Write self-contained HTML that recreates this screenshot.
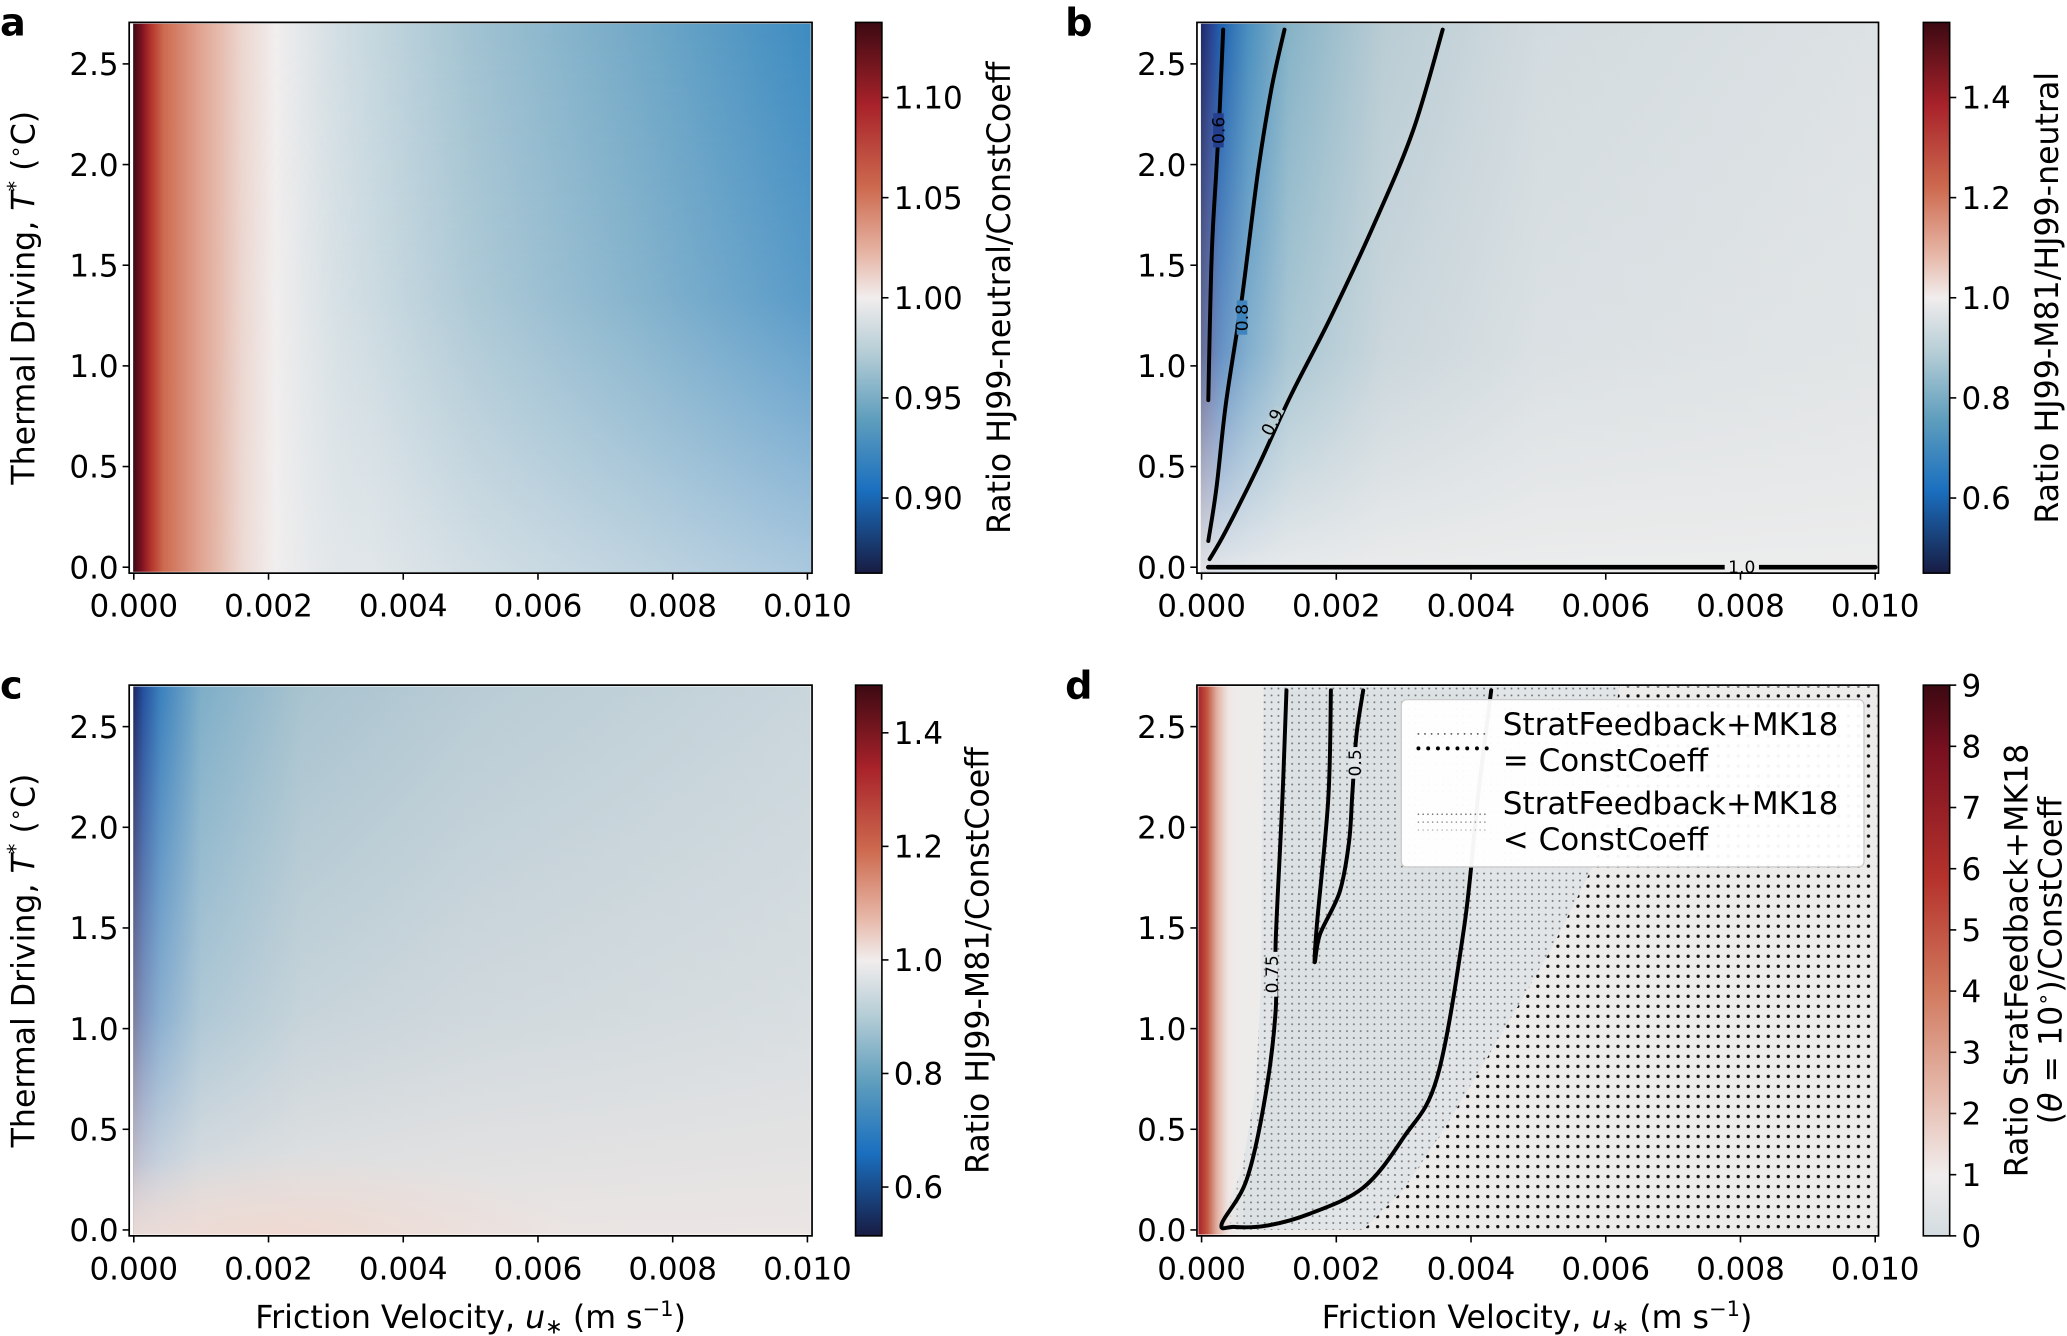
<!DOCTYPE html>
<html><head><meta charset="utf-8"><style>
html,body{margin:0;padding:0;background:#fff;}
svg{display:block;font-family:"DejaVu Sans","Liberation Sans",sans-serif;}
</style></head><body>
<svg id="fig" width="2067" height="1336" viewBox="0 0 1568 1014" preserveAspectRatio="none" xmlns="http://www.w3.org/2000/svg">
<defs>
<linearGradient id="gA" x1="0" x2="1" y1="0" y2="0">
<stop offset="0" stop-color="#3c0912"/><stop offset="0.012" stop-color="#7a1020"/><stop offset="0.025" stop-color="#b0302a"/><stop offset="0.045" stop-color="#cd6a4f"/><stop offset="0.1" stop-color="#e0a592"/><stop offset="0.16" stop-color="#ecd6cf"/><stop offset="0.21" stop-color="#f1eeee"/><stop offset="0.3" stop-color="#d3dfe4"/><stop offset="0.5" stop-color="#a2c3d2"/><stop offset="0.75" stop-color="#72a9c7"/><stop offset="1" stop-color="#3e8cc2"/>
</linearGradient>
<linearGradient id="ovA" x1="0" x2="0" y1="0" y2="1">
<stop offset="0" stop-color="#f2f0f0" stop-opacity="0"/><stop offset="0.5" stop-color="#f2f0f0" stop-opacity="0.15"/><stop offset="1" stop-color="#f2f0f0" stop-opacity="0.6"/>
</linearGradient>
<linearGradient id="mA" x1="0" x2="1" y1="0" y2="0">
<stop offset="0" stop-color="#000"/><stop offset="0.12" stop-color="#000"/><stop offset="0.35" stop-color="#fff"/><stop offset="1" stop-color="#fff"/>
</linearGradient>
<mask id="maskA" maskUnits="userSpaceOnUse" x="101" y="18" width="514" height="416"><rect x="101" y="18" width="514" height="416" fill="url(#mA)"/></mask>
<linearGradient id="gB" x1="0" x2="1" y1="0" y2="0">
<stop offset="0" stop-color="#1d2a63"/><stop offset="0.012" stop-color="#263d8c"/><stop offset="0.03" stop-color="#1f62b0"/><stop offset="0.07" stop-color="#4a8fbf"/><stop offset="0.13" stop-color="#86b3c7"/><stop offset="0.27" stop-color="#b9ccd4"/><stop offset="0.5" stop-color="#d2dbdf"/><stop offset="1" stop-color="#dde2e4"/>
</linearGradient>
<linearGradient id="ovB" x1="0" x2="0" y1="0" y2="1">
<stop offset="0" stop-color="#ebebeb" stop-opacity="0"/><stop offset="0.6" stop-color="#ebebeb" stop-opacity="0.35"/><stop offset="1" stop-color="#ededed" stop-opacity="0.95"/>
</linearGradient>
<linearGradient id="gC" x1="0" x2="1" y1="0" y2="0">
<stop offset="0" stop-color="#1c2560"/><stop offset="0.015" stop-color="#24509e"/><stop offset="0.04" stop-color="#3a80bd"/><stop offset="0.1" stop-color="#7eaec8"/><stop offset="0.25" stop-color="#a8c3cf"/><stop offset="0.5" stop-color="#b9ccd5"/><stop offset="1" stop-color="#c9d6dc"/>
</linearGradient>
<linearGradient id="ovC" x1="0" x2="0" y1="0" y2="1">
<stop offset="0" stop-color="#ebe8e7" stop-opacity="0"/><stop offset="0.6" stop-color="#ebe8e7" stop-opacity="0.45"/><stop offset="1" stop-color="#ede6e4" stop-opacity="0.95"/>
</linearGradient>
<radialGradient id="redC" cx="0.5" cy="0.5" r="0.5">
<stop offset="0" stop-color="#f0d6cc" stop-opacity="0.8"/><stop offset="1" stop-color="#f0d6cc" stop-opacity="0"/>
</radialGradient>
<clipPath id="clipC"><rect x="101" y="521" width="514" height="416"/></clipPath>
<linearGradient id="gD" x1="0" x2="1" y1="0" y2="0">
<stop offset="0" stop-color="#a8222a"/><stop offset="0.012" stop-color="#c0503c"/><stop offset="0.028" stop-color="#e2b2a4"/><stop offset="0.045" stop-color="#efe6e4" stop-opacity="0.8"/><stop offset="0.07" stop-color="#efeded" stop-opacity="0"/>
</linearGradient>
<linearGradient id="cbDiv" x1="0" x2="0" y1="0" y2="1">
<stop offset="0" stop-color="#3c0912"/><stop offset="0.15" stop-color="#a8222a"/><stop offset="0.3" stop-color="#cd6a4f"/><stop offset="0.42" stop-color="#e6b5a5"/><stop offset="0.5" stop-color="#f1eded"/><stop offset="0.6" stop-color="#b5cdd6"/><stop offset="0.72" stop-color="#5f9ebd"/><stop offset="0.85" stop-color="#1a6fbf"/><stop offset="1" stop-color="#181c43"/>
</linearGradient>
<linearGradient id="cbD" x1="0" x2="0" y1="0" y2="1">
<stop offset="0" stop-color="#3c0912"/><stop offset="0.12" stop-color="#7a1020"/><stop offset="0.35" stop-color="#b5322c"/><stop offset="0.55" stop-color="#d0775c"/><stop offset="0.75" stop-color="#e6bcaf"/><stop offset="0.89" stop-color="#f1eded"/><stop offset="1" stop-color="#d3dce0"/>
</linearGradient>
<pattern id="dotsBlack" width="7.6" height="7.6" patternUnits="userSpaceOnUse">
<circle cx="3.8" cy="3.8" r="1.25" fill="#111"/>
</pattern>
<pattern id="dotsGrey" width="5.2" height="5.2" patternUnits="userSpaceOnUse">
<circle cx="2.6" cy="2.6" r="0.75" fill="#777"/>
</pattern>
<clipPath id="clipD"><rect x="909" y="521" width="515" height="416"/></clipPath>
</defs>

<g>
<rect x="101" y="18" width="514" height="416" fill="url(#gA)"/>
<rect x="101" y="18" width="514" height="416" fill="url(#ovA)" mask="url(#maskA)"/>
</g>
<g>
<rect x="911" y="18" width="513" height="416" fill="url(#gB)"/>
<rect x="911" y="18" width="513" height="416" fill="url(#ovB)"/>
</g>
<g clip-path="url(#clipC)">
<rect x="101" y="521" width="514" height="416" fill="url(#gC)"/>
<rect x="101" y="521" width="514" height="416" fill="url(#ovC)"/>
<ellipse cx="210" cy="940" rx="230" ry="65" fill="url(#redC)"/>
</g>
<g id="dLayer" clip-path="url(#clipD)">
<rect x="909" y="521" width="515" height="416" fill="#eeeceb"/>
</g>

<g id="marks"></g>
</svg>
<script>
// ---------- data ----------
const xTicks = [0, 0.002, 0.004, 0.006, 0.008, 0.010];
const xTickLabels = ["0.000","0.002","0.004","0.006","0.008","0.010"];
const yTicks = [0, 0.5, 1.0, 1.5, 2.0, 2.5];
const yTickLabels = ["0.0","0.5","1.0","1.5","2.0","2.5"];
const cbATicks = [0.90, 0.95, 1.00, 1.05, 1.10];
const cbALabels = ["0.90","0.95","1.00","1.05","1.10"];
const cbARange = [0.8625, 1.1375];
const cbBTicks = [0.6, 0.8, 1.0, 1.2, 1.4];
const cbBLabels = ["0.6","0.8","1.0","1.2","1.4"];
const cbBRange = [0.45, 1.55];
const cbCTicks = [0.6, 0.8, 1.0, 1.2, 1.4];
const cbCLabels = ["0.6","0.8","1.0","1.2","1.4"];
const cbCRange = [0.514, 1.484];
const cbDTicks = [0,1,2,3,4,5,6,7,8,9];
const cbDLabels = ["0","1","2","3","4","5","6","7","8","9"];
const cbDRange = [0, 9];
const b06 = [[0.0001,0.83],[0.00015,1.55],[0.00022,1.97],[0.00027,2.28],[0.00032,2.67]];
const b08 = [[0.0001,0.13],[0.00022,0.39],[0.00036,0.81],[0.0006,1.34],[0.00084,1.97],[0.00104,2.38],[0.00123,2.67]];
const b09 = [[0.00012,0.04],[0.00036,0.18],[0.00084,0.5],[0.00132,0.85],[0.0019,1.23],[0.00257,1.71],[0.00314,2.17],[0.00358,2.67]];
const b10 = [[0.0001,0.0],[0.010,0.0]];
const d075 = [[0.00126,2.68],[0.0012,2.14],[0.0011,1.43],[0.0011,1.09],[0.00095,0.67],[0.00067,0.25],[0.0003,0.03],[0.00048,0.015],[0.00095,0.02],[0.0016,0.08],[0.0024,0.21],[0.003,0.46],[0.0035,0.76],[0.0039,1.51],[0.0041,2.14],[0.0043,2.68]];
const d05 = [[0.00192,2.68],[0.00188,2.14],[0.00171,1.51],[0.00168,1.33],[0.00176,1.47],[0.00205,1.68],[0.00219,1.93],[0.00224,2.18],[0.0023,2.46],[0.0024,2.68]];
const dEqualBoundary = [[0.0024,0],[0.003,0.2],[0.0036,0.5],[0.0045,1.0],[0.0052,1.4],[0.0058,1.8],[0.006,2.2],[0.0062,2.7]];
const dLessBoundary = [[0.0002,0],[0.0003,0.05],[0.0006,0.3],[0.0008,0.7],[0.00088,1.2],[0.0009,2.0],[0.00092,2.7]];

// ---------- helpers ----------
const NS = "http://www.w3.org/2000/svg";
const marks = document.getElementById("marks");
function mk(tag, attrs, parent){ const e=document.createElementNS(NS,tag); for(const k in attrs) e.setAttribute(k,attrs[k]); (parent||marks).appendChild(e); return e; }
function axes(px0, pxT0){ return { x: u => px0 + u/0.010*511, y: t => pxT0 - t*152.8 }; }
const P = {
  a: {ax: axes(101.5,430.5), frame:[98,17,518,418], cb:[649,17,20,418], cbFill:"url(#cbDiv)"},
  b: {ax: axes(911.5,430.5), frame:[908,17,517,418], cb:[1459,17,20,418], cbFill:"url(#cbDiv)"},
  c: {ax: axes(101.5,933.5), frame:[98,520,518,418], cb:[649,520,20,418], cbFill:"url(#cbDiv)"},
  d: {ax: axes(911.5,933.5), frame:[908,520,517,418], cb:[1459,520,20,418], cbFill:"url(#cbD)"}
};
function path(ax, pts){ return pts.map((p,i)=>(i?"L":"M")+ax.x(p[0]).toFixed(1)+","+ax.y(p[1]).toFixed(1)).join(" "); }
function smooth(ax, pts){
  const q = pts.map(p=>[ax.x(p[0]), ax.y(p[1])]);
  let d = "M"+q[0][0].toFixed(1)+","+q[0][1].toFixed(1);
  for(let i=0;i<q.length-1;i++){
    const p0=q[Math.max(0,i-1)], p1=q[i], p2=q[i+1], p3=q[Math.min(q.length-1,i+2)];
    const c1=[p1[0]+(p2[0]-p0[0])/6, p1[1]+(p2[1]-p0[1])/6];
    const c2=[p2[0]-(p3[0]-p1[0])/6, p2[1]-(p3[1]-p1[1])/6];
    d += " C"+c1.map(v=>v.toFixed(1)).join(",")+" "+c2.map(v=>v.toFixed(1)).join(",")+" "+p2.map(v=>v.toFixed(1)).join(",");
  }
  return d;
}
const FS = 23.5;
function drawAxes(key){
  const p=P[key], ax=p.ax, f=p.frame;
  const fr = mk("rect",{x:f[0],y:f[1],width:f[2],height:f[3],fill:"none",stroke:"#000","stroke-width":1.3});
  
  
  xTicks.forEach((v,i)=>{
    const x=ax.x(v), yb=f[1]+f[3];
    const t = mk("line",{x1:x,x2:x,y1:yb,y2:yb+5,stroke:"#000","stroke-width":1.2});
    
    
    const l = mk("text",{x:x,y:yb+33,"text-anchor":"middle","font-size":FS,fill:"#000"});
    l.textContent = xTickLabels[i];
    
    
  });
  yTicks.forEach((v,i)=>{
    const y=ax.y(v), xl=f[0];
    const t = mk("line",{x1:xl-5,x2:xl,y1:y,y2:y,stroke:"#000","stroke-width":1.2});
    
    
    const l = mk("text",{x:xl-8,y:y+8.5,"text-anchor":"end","font-size":FS,fill:"#000"});
    l.textContent = yTickLabels[i];
    
    
  });
}
function drawCb(key, ticks, labels, range){
  const c=P[key].cb;
  const r = mk("rect",{x:c[0],y:c[1],width:c[2],height:c[3],fill:P[key].cbFill,stroke:"#000","stroke-width":1.2});
  
  
  ticks.forEach((v,i)=>{
    const y = c[1]+c[3] - (v-range[0])/(range[1]-range[0])*c[3];
    const t = mk("line",{x1:c[0]+c[2],x2:c[0]+c[2]+5,y1:y,y2:y,stroke:"#000","stroke-width":1.2});
    
    
    const l = mk("text",{x:c[0]+c[2]+9,y:y+8.5,"font-size":FS,fill:"#000"});
    l.textContent = labels[i];
    
    
  });
}
function contour(key, pts, name, lw){
  const e = mk("path",{d:smooth(P[key].ax,pts),fill:"none",stroke:"#000","stroke-width":lw||3,"stroke-linejoin":"round","stroke-linecap":"round"});
  
  
  return e;
}
function clabel(key, u, t, txt, rot, bg, w, h){
  const ax=P[key].ax, x=ax.x(u), y=ax.y(t);
  const g = mk("rect",{x:x-w/2,y:y-h/2,width:w,height:h,fill:bg,transform:`rotate(${rot} ${x} ${y})`});
  
  
  const l = mk("text",{x:x,y:y+4.5,"text-anchor":"middle","font-size":13,fill:"#000",transform:`rotate(${rot} ${x} ${y})`});
  l.textContent = txt;
  
  
}

// ---------- panel d background ----------
const dl = document.getElementById("dLayer");
const axd = P.d.ax;
const greyPoly = dLessBoundary.concat(dEqualBoundary.slice().reverse());
const gp = mk("path",{d:path(axd,greyPoly)+" Z",fill:"#e1e5e7"},dl);


const inner = mk("path",{d:smooth(axd,d075)+" Z",fill:"#dbe1e4",opacity:0.8},dl);


const gd = mk("path",{d:path(axd,greyPoly)+" Z",fill:"url(#dotsGrey)"},dl);


const eqPoly = dEqualBoundary.concat([[0.0102,2.75],[0.0102,-0.05],[0.0024,-0.05]]);
const bd = mk("path",{d:path(axd,eqPoly)+" Z",fill:"url(#dotsBlack)"},dl);


const red = mk("rect",{x:909,y:521,width:515,height:416,fill:"url(#gD)"},dl);



// ---------- contours ----------
contour("b", b06, "contour-0.6");
contour("b", b08, "contour-0.8");
contour("b", b09, "contour-0.9");
contour("b", b10, "contour-1.0", 3.5);
clabel("b",0.00025,2.17,"0.6",-90,"#243f8e",26,8);
clabel("b",0.0006,1.24,"0.8",-90,"#3f84bc",26,8);
clabel("b",0.00105,0.72,"0.9",-62,"#b8ccd4",24,8);
clabel("b",0.00802,0.0,"1.0",0,"#ededed",26,8);
const dg = mk("g",{"clip-path":"url(#clipD)"});


dg.appendChild(contour("d", d075, "contour-0.75"));
dg.appendChild(contour("d", d05, "contour-0.5"));
clabel("d",0.00105,1.27,"0.75",-90,"#e1e5e7",34,8);
clabel("d",0.00228,2.32,"0.5",-90,"#e1e5e7",24,8);

["a","b","c","d"].forEach(drawAxes);
drawCb("a", cbATicks, cbALabels, cbARange);
drawCb("b", cbBTicks, cbBLabels, cbBRange);
drawCb("c", cbCTicks, cbCLabels, cbCRange);
drawCb("d", cbDTicks, cbDLabels, cbDRange);
</script>
<script>
(function(){
const svg=document.getElementById("fig"), NS="http://www.w3.org/2000/svg";
const g=document.createElementNS(NS,"g"); svg.appendChild(g);
g.innerHTML = `
<text x="0" y="27" font-size="29" font-weight="bold">a</text>
<text x="808" y="27" font-size="29" font-weight="bold">b</text>
<text x="0" y="530" font-size="29" font-weight="bold">c</text>
<text x="808" y="530" font-size="29" font-weight="bold">d</text>
<text transform="translate(26 226) rotate(-90)" text-anchor="middle" font-size="24">Thermal Driving, <tspan font-style="italic">T</tspan><tspan dy="-9" font-size="16">*</tspan><tspan dy="9"> (</tspan><tspan dy="-9" font-size="16">∘</tspan><tspan dy="9">C)</tspan></text>
<text transform="translate(26 729) rotate(-90)" text-anchor="middle" font-size="24">Thermal Driving, <tspan font-style="italic">T</tspan><tspan dy="-9" font-size="16">*</tspan><tspan dy="9"> (</tspan><tspan dy="-9" font-size="16">∘</tspan><tspan dy="9">C)</tspan></text>
<text x="357" y="1008" text-anchor="middle" font-size="24">Friction Velocity, <tspan font-style="italic">u</tspan><tspan font-size="16" dy="4">∗</tspan><tspan dy="-4"> (m s</tspan><tspan dy="-9" font-size="16">−1</tspan><tspan dy="9">)</tspan></text>
<text x="1166" y="1008" text-anchor="middle" font-size="24">Friction Velocity, <tspan font-style="italic">u</tspan><tspan font-size="16" dy="4">∗</tspan><tspan dy="-4"> (m s</tspan><tspan dy="-9" font-size="16">−1</tspan><tspan dy="9">)</tspan></text>
<text transform="translate(766 226) rotate(-90)" text-anchor="middle" font-size="24">Ratio HJ99-neutral/ConstCoeff</text>
<text transform="translate(1561 226) rotate(-90)" text-anchor="middle" font-size="24">Ratio HJ99-M81/HJ99-neutral</text>
<text transform="translate(750 729) rotate(-90)" text-anchor="middle" font-size="24">Ratio HJ99-M81/ConstCoeff</text>
<text transform="translate(1538 729) rotate(-90)" text-anchor="middle" font-size="24">Ratio StratFeedback+MK18</text>
<text transform="translate(1564 729) rotate(-90)" text-anchor="middle" font-size="24">(<tspan font-style="italic">θ</tspan> = 10<tspan dy="-9" font-size="16">∘</tspan><tspan dy="9">)/ConstCoeff</tspan></text>
<g>
<rect x="1063" y="531" width="351" height="127" rx="4" fill="#fff" fill-opacity="0.96" stroke="#ccc" stroke-width="1"/>
<line x1="1076" x2="1128" y1="557" y2="557" stroke="#555" stroke-width="1.4" stroke-dasharray="0 5" stroke-linecap="round"/>
<line x1="1076" x2="1128" y1="568" y2="568" stroke="#000" stroke-width="3" stroke-dasharray="0 7.4" stroke-linecap="round"/>
<line x1="1076" x2="1128" y1="618" y2="618" stroke="#777" stroke-width="1.3" stroke-dasharray="0 3.6" stroke-linecap="round"/>
<line x1="1076" x2="1128" y1="624" y2="624" stroke="#999" stroke-width="1.3" stroke-dasharray="0 3.6" stroke-linecap="round"/>
<line x1="1076" x2="1128" y1="630" y2="630" stroke="#bbb" stroke-width="1.3" stroke-dasharray="0 3.6" stroke-linecap="round"/>
<text x="1140" y="558" font-size="23.5">StratFeedback+MK18</text>
<text x="1140" y="585" font-size="23.5">= ConstCoeff</text>
<text x="1140" y="618" font-size="23.5">StratFeedback+MK18</text>
<text x="1140" y="645" font-size="23.5">&lt; ConstCoeff</text>
</g>`;
})();
</script>
</body></html>
